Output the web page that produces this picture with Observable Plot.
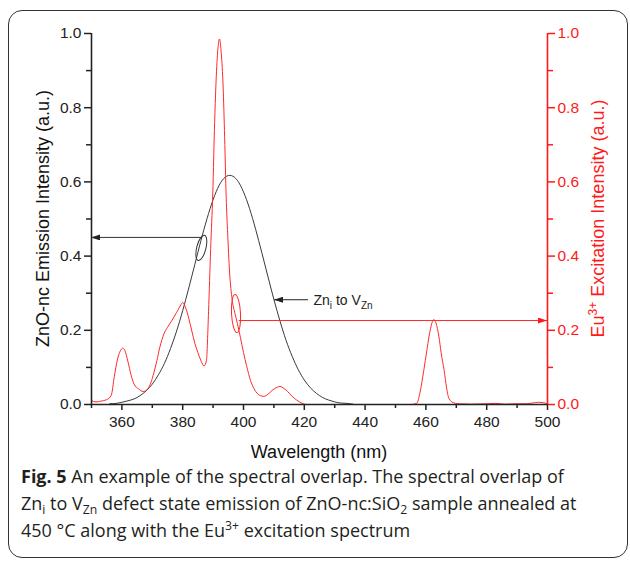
<!DOCTYPE html>
<html><head><meta charset="utf-8">
<script src="https://cdn.jsdelivr.net/npm/d3@7"></script>
<script src="https://cdn.jsdelivr.net/npm/@observablehq/plot@0.6"></script>
<style>
html,body{margin:0;padding:0;background:#fff;}
body{width:630px;height:561px;position:relative;overflow:hidden;font-family:"Liberation Sans",Arial,sans-serif;}
#frame{position:absolute;left:8px;top:10px;width:620px;height:548px;border:1.5px solid #333;border-radius:14px;box-sizing:border-box;}
#chart{position:absolute;left:0;top:0;}
#caption{position:absolute;left:21px;top:463px;width:606px;font-family:"Open Sans",sans-serif;font-size:18px;line-height:27px;color:#231f20;white-space:nowrap;}
#caption sub,#caption sup{font-size:0.68em;line-height:0;position:relative;vertical-align:baseline;}
#caption sub{top:0.3em;}
#caption sup{top:-0.55em;}
</style></head><body>
<div id="frame"></div>
<div id="chart"></div>
<div id="caption"><b>Fig. 5</b> An example of the spectral overlap. The spectral overlap of<br>Zn<sub>i</sub> to V<sub>Zn</sub> defect state emission of ZnO-nc:SiO<sub>2</sub> sample annealed at<br>450 °C along with the Eu<sup>3+</sup> excitation spectrum</div>
<script>
// ZnO-nc emission (Zn_i to V_Zn), left axis
const znoNm  = [356,358,360,362,364,366,368,370,372,374,376,378,380,382,384,386,388,390,392,394,396,398,400,402,404,406,408,410,412,414,416,418,420,422,424,426,428,430,432,434,436];
const znoVal = [0.002,0.003,0.006,0.010,0.015,0.024,0.037,0.055,0.080,0.111,0.151,0.198,0.253,0.314,0.378,0.442,0.501,0.552,0.591,0.613,0.617,0.604,0.573,0.528,0.472,0.410,0.346,0.283,0.225,0.173,0.130,0.094,0.066,0.045,0.030,0.019,0.012,0.007,0.004,0.003,0.001];

// Eu3+ excitation spectrum, right axis
const euNm  = [350,351.5,353,355,356.5,357.5,358.5,359.5,360.3,361,362,363,364,365.5,367,368.5,369.5,370.5,371.5,372.5,373.8,375,376.5,378,379.5,380,381,382,383,384,385,386,387,387.8,388.5,389.2,389.9,390.5,390.9,391.5,392.1,392.7,393.3,393.8,394.3,394.8,395.4,396.3,397.2,398,399,400,401,402.3,403.5,404.5,405.5,406.7,408,409.4,411,412,413,414.5,416,417.5,419.3,420.5,425,430,440,450,455,457,458,459.3,460.3,461,462,462.6,463.3,464.3,465,466,466.8,467.6,469,470.5,475,480,483,486,490,493,495,497,498.5,500];
const euVal = [0.010,0.007,0.009,0.013,0.025,0.075,0.120,0.145,0.152,0.145,0.115,0.080,0.055,0.042,0.035,0.042,0.058,0.085,0.118,0.155,0.190,0.208,0.227,0.248,0.270,0.275,0.260,0.232,0.198,0.165,0.140,0.118,0.104,0.118,0.250,0.420,0.570,0.760,0.856,0.950,0.985,0.945,0.856,0.720,0.560,0.460,0.360,0.281,0.245,0.218,0.180,0.140,0.105,0.065,0.042,0.030,0.024,0.022,0.027,0.038,0.046,0.049,0.045,0.035,0.022,0.012,0.003,0.000,0.000,0.000,0.000,0.000,0.000,0.003,0.030,0.092,0.145,0.182,0.220,0.229,0.220,0.182,0.140,0.092,0.045,0.016,0.005,0.002,0.001,0.002,0.003,0.001,0.002,0.002,0.004,0.006,0.005,0.002];

// Axes ticks
const xMajor = [360,380,400,420,440,460,480,500];
const xMinor = [350,370,390,410,430,450,470,490];
const yMajor = [0,0.2,0.4,0.6,0.8,1.0];
const yMinor = [0.1,0.3,0.5,0.7,0.9];

// Texts
const xTitle = "Wavelength (nm)";
const yLeftTitle = "ZnO-nc Emission Intensity (a.u.)";
const yRightTitle = ["Eu", "3+", " Excitation Intensity (a.u.)"];

// Annotations (data coordinates)
const emissionArrow = [386.4, 350, 0.449];      // from x, to x, at y
const emissionEllipse = [386.3, 0.421];
const excitationArrow = [398.6, 500, 0.225];
const excitationEllipse = [397.7, 0.244];
const labelArrow = [421.4, 410.2, 0.281];
const labelPos = [423.2, 0.281];

const zno = znoNm.map((nm,i)=>({nm, v:znoVal[i]}));
const eu = euNm.map((nm,i)=>({nm, v:euVal[i]}));

const fmt = d3.format(".1f");
const plot = Plot.plot({
  width: 630, height: 470,
  marginTop: 33, marginLeft: 91, marginRight: 83, marginBottom: 66,
  x: {domain: [350, 500]},
  y: {domain: [0, 1]},
  style: {fontFamily: "Liberation Sans, Arial, sans-serif", fontSize: "15.5px", background: "transparent", color: "#222"},
  marks: [
    Plot.axisX({ticks: xMajor, tickSize: 6, tickPadding: 5, tickFormat: d => String(d), label: null, strokeWidth: 1.5}),
    Plot.axisX({ticks: xMinor, tickSize: 4, tickFormat: () => "", label: null, strokeWidth: 1.5}),
    Plot.axisY({anchor: "left", ticks: yMajor, tickSize: 7, tickPadding: 3, tickFormat: fmt, label: null, strokeWidth: 1.5}),
    Plot.axisY({anchor: "left", ticks: yMinor, tickSize: 5, tickFormat: () => "", label: null, strokeWidth: 1.5}),
    Plot.axisY({anchor: "right", ticks: yMajor, tickSize: 7, tickPadding: 3, tickFormat: fmt, label: null, color: "#ff1a1a", strokeWidth: 1.5}),
    Plot.axisY({anchor: "right", ticks: yMinor, tickSize: 5, tickFormat: () => "", label: null, color: "#ff1a1a", strokeWidth: 1.5}),
    Plot.line(zno, {x: "nm", y: "v", stroke: "#3a3a3a", strokeWidth: 1, curve: "natural"}),
    Plot.line(eu, {x: "nm", y: "v", stroke: "#ff2a2a", strokeWidth: 1, curve: "monotone-x"}),
    Plot.ruleY([0], {stroke: "#222", strokeWidth: 1.6}),
    Plot.ruleX([350], {stroke: "#222", strokeWidth: 1.6}),
    Plot.ruleX([500], {stroke: "#ff1a1a", strokeWidth: 1.6})
  ]
});
document.getElementById("chart").appendChild(plot);

const X = plot.scale("x"), Y = plot.scale("y");
const sx = v => X.apply(v), sy = v => Y.apply(v);
const svg = d3.select(plot);
const defs = svg.append("defs");
function marker(id, color) {
  defs.append("marker").attr("id", id)
    .attr("viewBox", "0 0 10 10").attr("refX", 10).attr("refY", 5)
    .attr("markerWidth", 9).attr("markerHeight", 6).attr("markerUnits", "userSpaceOnUse")
    .attr("preserveAspectRatio", "none").attr("orient", "auto")
    .append("path").attr("d", "M0,0L10,5L0,10Z").attr("fill", color);
}
marker("ab", "#222");
marker("ar", "#ff1a1a");
const g = svg.append("g").attr("text-anchor", "start");

// emission arrow + ellipse
g.append("line").attr("x1", sx(emissionArrow[0])).attr("x2", sx(emissionArrow[1]))
  .attr("y1", sy(emissionArrow[2])).attr("y2", sy(emissionArrow[2]))
  .attr("stroke", "#333").attr("stroke-width", 1).attr("marker-end", "url(#ab)");
g.append("ellipse").attr("cx", 0).attr("cy", 0).attr("rx", 4.6).attr("ry", 13)
  .attr("transform", `translate(${sx(emissionEllipse[0])},${sy(emissionEllipse[1])}) rotate(14)`)
  .attr("fill", "none").attr("stroke", "#333").attr("stroke-width", 1);

// excitation arrow + ellipse
g.append("line").attr("x1", sx(excitationArrow[0])).attr("x2", sx(excitationArrow[1]))
  .attr("y1", sy(excitationArrow[2])).attr("y2", sy(excitationArrow[2]))
  .attr("stroke", "#ff2a2a").attr("stroke-width", 1).attr("marker-end", "url(#ar)");
g.append("ellipse").attr("cx", 0).attr("cy", 0).attr("rx", 4.5).attr("ry", 19)
  .attr("transform", `translate(${sx(excitationEllipse[0])},${sy(excitationEllipse[1])}) rotate(-3)`)
  .attr("fill", "none").attr("stroke", "#ff2a2a").attr("stroke-width", 1);

// Zn_i to V_Zn label
g.append("line").attr("x1", sx(labelArrow[0])).attr("x2", sx(labelArrow[1]))
  .attr("y1", sy(labelArrow[2])).attr("y2", sy(labelArrow[2]))
  .attr("stroke", "#222").attr("stroke-width", 1).attr("marker-end", "url(#ab)");
const lt = g.append("text").attr("x", sx(labelPos[0])).attr("y", sy(labelPos[1]) + 5)
  .attr("text-anchor", "start")
  .attr("font-size", 14).attr("fill", "#222").attr("font-family", "Liberation Sans, Arial, sans-serif");
lt.append("tspan").text("Zn");
lt.append("tspan").attr("font-size", 10).attr("dy", 4).text("i");
lt.append("tspan").attr("dy", -4).text(" to V");
lt.append("tspan").attr("font-size", 10).attr("dy", 4).text("Zn");

// Axis titles
const [x0, x1] = X.range, [y0, y1] = Y.range;
g.append("text").attr("x", (x0 + x1) / 2).attr("y", y0 + 54).attr("text-anchor", "middle")
  .attr("font-size", 18).attr("fill", "#111").text(xTitle);
g.append("text").attr("transform", `translate(${x0 - 42},${(y0 + y1) / 2}) rotate(-90)`)
  .attr("text-anchor", "middle").attr("font-size", 18).attr("fill", "#111").text(yLeftTitle);
const rt = g.append("text").attr("transform", `translate(${x1 + 57},${(y0 + y1) / 2}) rotate(-90)`)
  .attr("text-anchor", "middle").attr("font-size", 18).attr("fill", "#ff1a1a");
rt.append("tspan").text(yRightTitle[0]);
rt.append("tspan").attr("font-size", 12).attr("dy", -7).text(yRightTitle[1]);
rt.append("tspan").attr("dy", 7).text(yRightTitle[2]);
</script>
</body></html>
